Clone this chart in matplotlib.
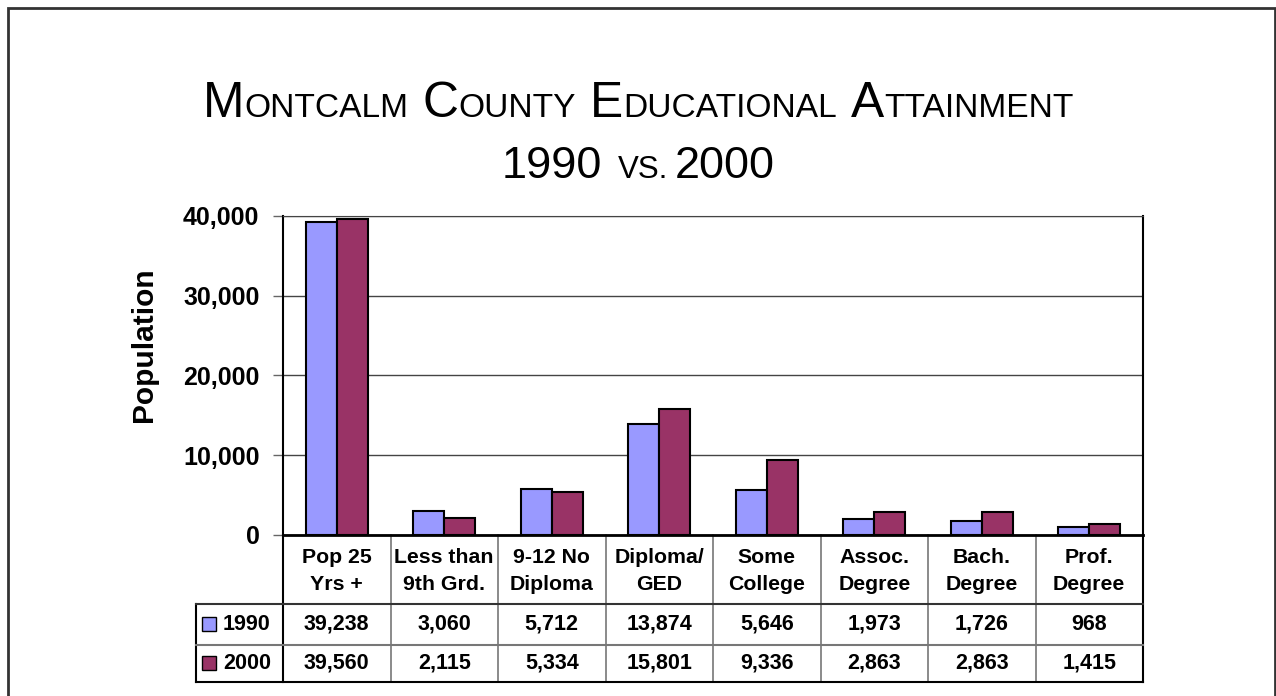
import matplotlib
matplotlib.use("Agg")
import matplotlib.pyplot as plt
from matplotlib.patches import Rectangle
from matplotlib.ticker import FuncFormatter

categories = ["Pop 25\nYrs +", "Less than\n9th Grd.", "9-12 No\nDiploma", "Diploma/\nGED",
              "Some\nCollege", "Assoc.\nDegree", "Bach.\nDegree", "Prof.\nDegree"]
pop_1990 = [39238, 3060, 5712, 13874, 5646, 1973, 1726, 968]
pop_2000 = [39560, 2115, 5334, 15801, 9336, 2863, 2863, 1415]
years = ["1990", "2000"]
colors = ["#9999FF", "#993366"]
yticks = [0, 10000, 20000, 30000, 40000]

plt.rcParams['font.family'] = ['Liberation Sans', 'DejaVu Sans']

W, H = 1276, 696
fig = plt.figure(figsize=(W / 100, H / 100), dpi=100)
ax = fig.add_axes([283 / W, 1 - 535 / H, (1143 - 283) / W, (535 - 215.7) / H])

# bars
n = len(categories)
x = list(range(n))
bw = 0.288
ax.bar([i - bw / 2 for i in x], pop_1990, bw, color=colors[0], edgecolor="black", linewidth=1.5, zorder=3)
ax.bar([i + bw / 2 for i in x], pop_2000, bw, color=colors[1], edgecolor="black", linewidth=1.5, zorder=3)

ax.set_xlim(-0.5, n - 0.5)
ax.set_ylim(0, 40000)
ax.set_yticks(yticks)
ax.yaxis.set_major_formatter(FuncFormatter(lambda v, p: f"{int(v):,}"))
ax.tick_params(axis="y", direction="out", length=7, width=1, color="#666666", pad=10)
for lbl in ax.get_yticklabels():
    lbl.set_fontsize(18)
    lbl.set_fontweight("bold")
ax.set_xticks([])
ax.grid(axis="y", color="#444444", linewidth=1, zorder=0)
ax.spines["top"].set_color("#444444")
ax.spines["left"].set_linewidth(1.5)
ax.spines["right"].set_linewidth(1.5)
ax.spines["bottom"].set_linewidth(2)

ax.set_ylabel("Population", fontsize=21.5, fontweight="bold")
ax.yaxis.set_label_coords(-0.145, 0.595)

# data table under the axis
tr = ax.get_xaxis_transform()
y_row1, y_mid, y_bot = -0.2161, -0.3445, -0.4604
x_leg = -0.5 - (283 - 196) / 107.5
lkw = dict(transform=tr, clip_on=False)
for k in range(1, n):
    ax.plot([k - 0.5, k - 0.5], [0, y_bot], color="#777777", lw=1.2, **lkw)
ax.plot([-0.5, -0.5], [0, y_bot], color="black", lw=1.5, **lkw)
ax.plot([n - 0.5, n - 0.5], [0, y_bot], color="black", lw=1.5, **lkw)
ax.plot([x_leg, x_leg], [y_row1, y_bot], color="black", lw=1.5, **lkw)
ax.plot([x_leg, n - 0.5], [y_row1, y_row1], color="#333333", lw=1.5, **lkw)
ax.plot([x_leg, n - 0.5], [y_mid, y_mid], color="#777777", lw=1.5, **lkw)
ax.plot([x_leg, n - 0.5], [y_bot, y_bot], color="black", lw=1.5, **lkw)

for i, cat in enumerate(categories):
    ax.text(i, -0.112, cat, transform=tr, ha="center", va="center", fontsize=15.3,
            fontweight="bold", linespacing=1.5)

rows = [(pop_1990, -0.280), (pop_2000, -0.402)]
for (vals, yc), yr, c in zip(rows, years, colors):
    for i, v in enumerate(vals):
        ax.text(i, yc, f"{v:,}", transform=tr, ha="center", va="center", fontsize=15.5, fontweight="bold")
    ax.plot([-1.184], [yc], marker="s", markersize=9.4, markerfacecolor=c, markeredgecolor="black",
            markeredgewidth=1, **lkw)
    ax.text(-1.058, yc, yr, transform=tr, ha="left", va="center", fontsize=15.5, fontweight="bold")

# title with small caps
def small_caps_line(y, parts, big, small, gaps):
    r = fig.canvas.get_renderer()
    items = []
    gi = iter(gaps)
    for s, up in parts:
        if s == " ":
            items.append((None, next(gi)))
            continue
        t = fig.text(0, y, s, fontsize=big if up else small, va="baseline", ha="left")
        items.append((t, t.get_window_extent(r).width))
    total = sum(w for _, w in items)
    xp = (W - total) / 2
    for t, w in items:
        if t is not None:
            t.set_x(xp / W)
        xp += w

line1 = [("M", 1), ("ONTCALM", 0), (" ", 0), ("C", 1), ("OUNTY", 0), (" ", 0),
         ("E", 1), ("DUCATIONAL", 0), (" ", 0), ("A", 1), ("TTAINMENT", 0)]
line2 = [("1990", 1), (" ", 0), ("VS.", 0), (" ", 0), ("2000", 1)]
small_caps_line(1 - 117.3 / H, line1, 35.8, 24.1, [14, 14, 14])
small_caps_line(1 - 178.3 / H, line2, 32.5, 22.5, [16, 6])

# outer frame
fig.patches.append(Rectangle((8 / W, -0.05), (1275 - 8) / W, 1.05 - 8 / H, transform=fig.transFigure,
                             fill=False, edgecolor="#333333", linewidth=2))

fig.savefig("out.png", dpi=100)
